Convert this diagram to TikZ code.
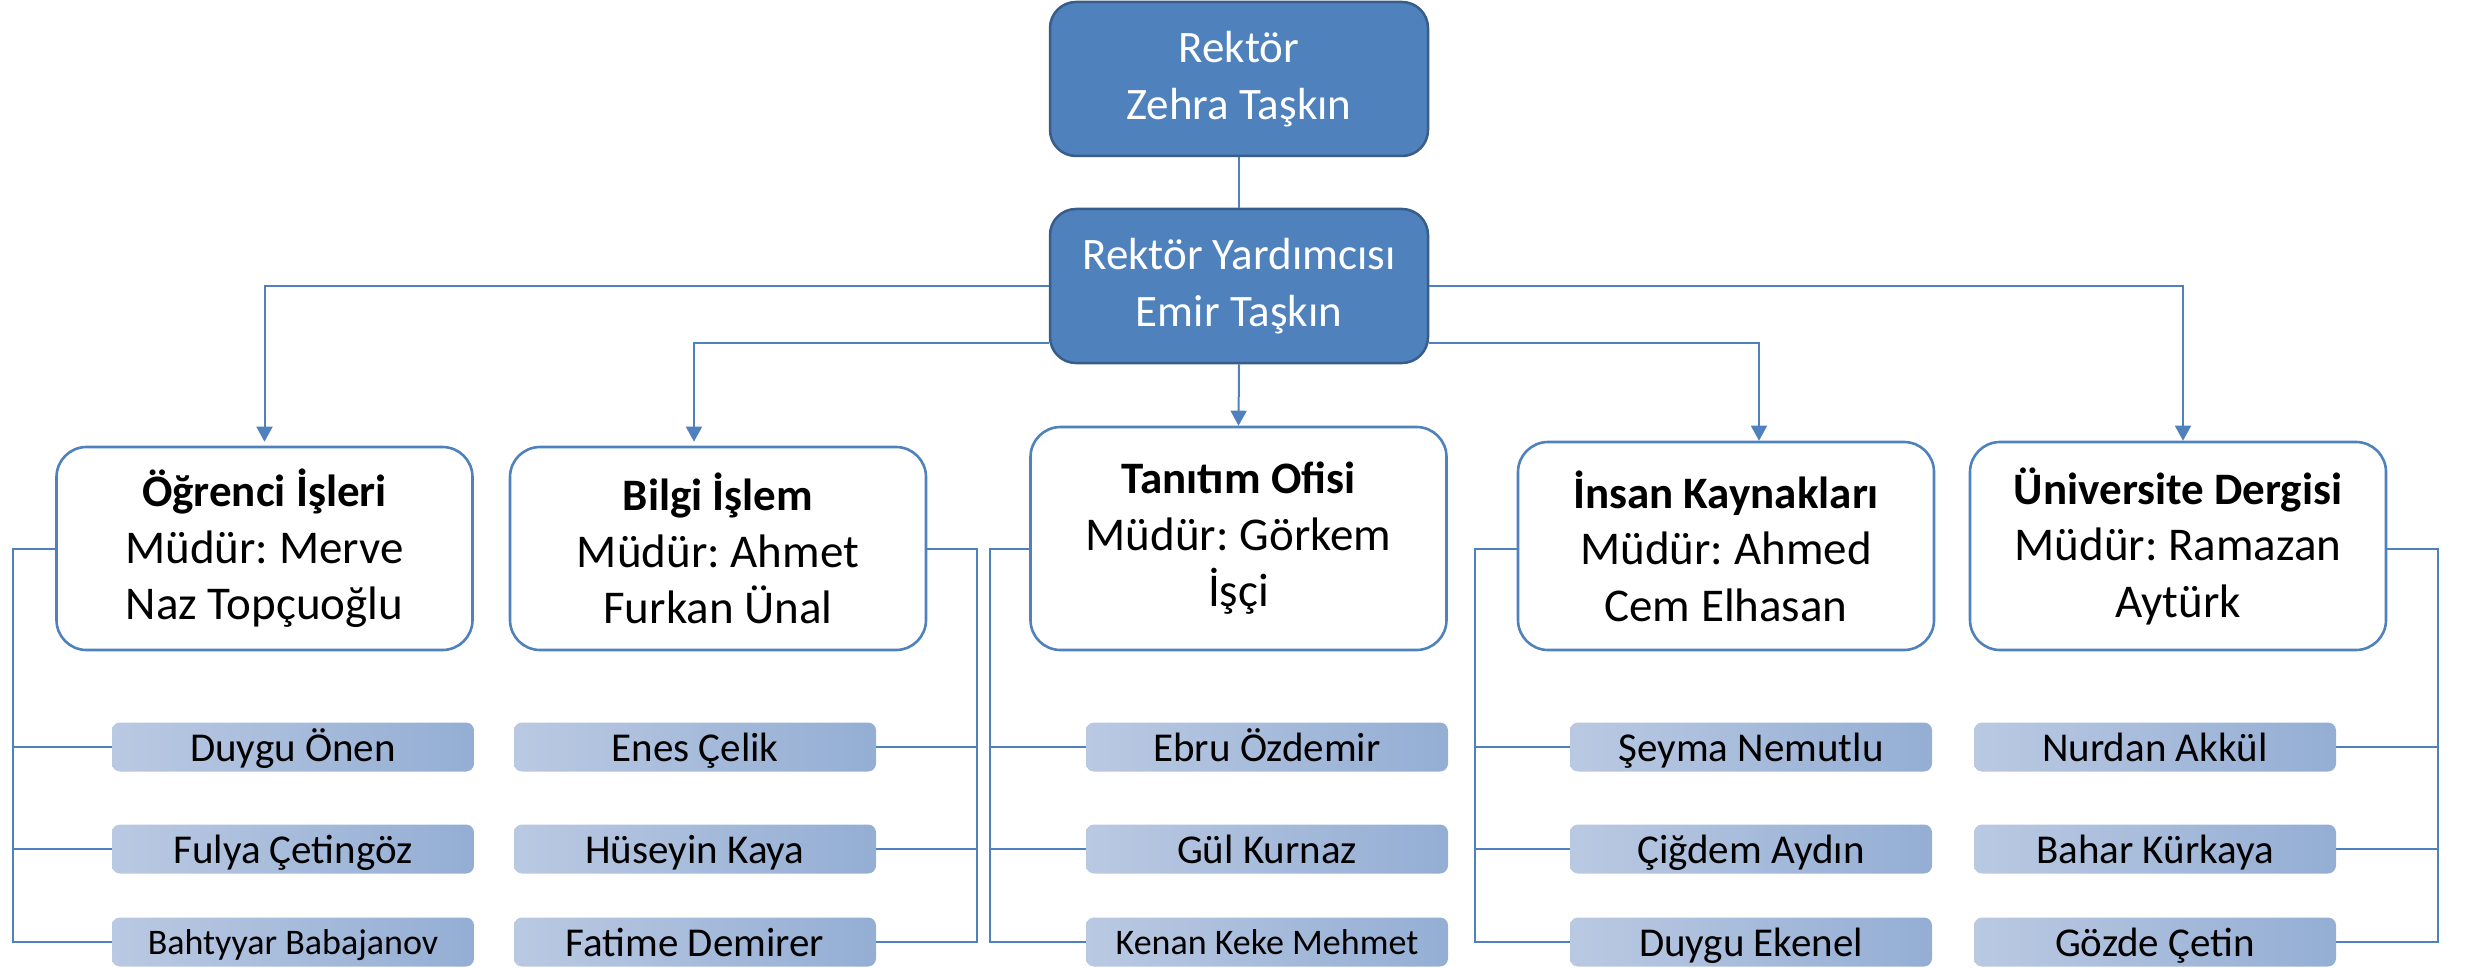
\documentclass[tikz,border=0pt]{standalone}
\usepackage{fontspec}
\setmainfont{Carlito}
\usetikzlibrary{arrows.meta}
\definecolor{ofBlue}{RGB}{79,129,189}
\definecolor{ofEdge}{RGB}{56,93,138}
\definecolor{empL}{RGB}{186,201,226}
\definecolor{empR}{RGB}{148,174,212}
\newcommand\depttitle[1]{{\fontsize{45}{56.5}\selectfont\bfseries #1}}
\frenchspacing

\begin{document}
\begin{tikzpicture}[x=1pt,y=-1pt,
  lead/.style={rounded corners=26pt, fill=ofBlue, draw=ofEdge, line width=2.5pt,
    minimum width=378pt, minimum height=154pt, text=white, align=center,
    font=\fontsize{45}{57}\selectfont, inner sep=0pt},
  dept/.style={rounded corners=30pt, fill=white, draw=ofBlue, line width=2.6pt,
    minimum width=416pt, align=center, font=\fontsize{47}{56.5}\selectfont, inner sep=0pt},
  emp/.style={rounded corners=8pt, left color=empL, right color=empR,
    minimum width=362pt, minimum height=49pt, inner sep=0pt,
    font=\fontsize{41}{48}\selectfont, text height=34pt, text depth=6pt},
  empsmall/.style={emp, font=\fontsize{36}{42}\selectfont, text height=30pt, text depth=6pt},
  link/.style={draw=ofBlue, line width=2pt},
  arrow/.style={link, -{Triangle[length=15pt,width=16pt]}},
]
\useasboundingbox (0,0) rectangle (2473,968);

% management
\node[lead] (A) at (1239,79) {Rektör\\Zehra Taşkın};
\node[lead] (B) at (1239,286) {Rektör Yardımcısı\\Emir Taşkın};

% departments
\node[dept, minimum height=203pt] (D1) at (264.5,548.5) {\depttitle{Öğrenci İşleri}\\Müdür: Merve\\Naz Topçuoğlu};
\node[dept, minimum height=203pt] (D2) at (718,548.5) {\depttitle{Bilgi İşlem}\\Müdür: Ahmet\\Furkan Ünal};
\node[dept, minimum height=223pt] (D3) at (1238.5,538.5) {\depttitle{Tanıtım Ofisi}\\Müdür: Görkem\\İşçi};
\node[dept, minimum height=208pt] (D4) at (1726,546) {\depttitle{İnsan Kaynakları}\\Müdür: Ahmed\\Cem Elhasan};
\node[dept, minimum height=208pt] (D5) at (2178,546) {\depttitle{Üniversite Dergisi}\\Müdür: Ramazan\\Aytürk};

% staff
\node[emp] (E11) at (293,747) {Duygu Önen};
\node[emp] (E12) at (293,849) {Fulya Çetingöz};
\node[empsmall] (E13) at (293,942) {Bahtyyar Babajanov};

\node[emp] (E21) at (695,747) {Enes Çelik};
\node[emp] (E22) at (695,849) {Hüseyin Kaya};
\node[emp] (E23) at (695,942) {Fatime Demirer};

\node[emp] (E31) at (1267,747) {Ebru Özdemir};
\node[emp] (E32) at (1267,849) {Gül Kurnaz};
\node[empsmall] (E33) at (1267,942) {Kenan Keke Mehmet};

\node[emp] (E41) at (1751,747) {Şeyma Nemutlu};
\node[emp] (E42) at (1751,849) {Çiğdem Aydın};
\node[emp] (E43) at (1751,942) {Duygu Ekenel};

\node[emp] (E51) at (2155,747) {Nurdan Akkül};
\node[emp] (E52) at (2155,849) {Bahar Kürkaya};
\node[emp] (E53) at (2155,942) {Gözde Çetin};

% reporting lines
\draw[link] (A) -- (B);
\draw[arrow, shorten >=4pt] (B.west) -| (D1.north);
\draw[arrow, shorten >=4pt] ([yshift=-57pt]B.west) -| ([xshift=-24pt]D2.north);
\draw[arrow] (B.south) -- (D3.north);
\draw[arrow] ([yshift=-57pt]B.east) -| ([xshift=33pt]D4.north);
\draw[arrow] (B.east) -| ([xshift=5pt]D5.north);

% staff brackets
\coordinate (c1) at (13,0);
\coordinate (c2) at (977,0);
\coordinate (c3) at (990,0);
\coordinate (c4) at (1475,0);
\coordinate (c5) at (2438,0);

\draw[link] (D1.west) -| (c1 |- E13.west) -- (E13.west);
\draw[link] (c1 |- E11.west) -- (E11.west);
\draw[link] (c1 |- E12.west) -- (E12.west);

\draw[link] (D2.east) -| (c2 |- E23.east) -- (E23.east);
\draw[link] (c2 |- E21.east) -- (E21.east);
\draw[link] (c2 |- E22.east) -- (E22.east);

\draw[link] (D3.west |- D1.west) -| (c3 |- E33.west) -- (E33.west);
\draw[link] (c3 |- E31.west) -- (E31.west);
\draw[link] (c3 |- E32.west) -- (E32.west);

\draw[link] (D4.west |- D1.west) -| (c4 |- E43.west) -- (E43.west);
\draw[link] (c4 |- E41.west) -- (E41.west);
\draw[link] (c4 |- E42.west) -- (E42.west);

\draw[link] (D5.east |- D1.east) -| (c5 |- E53.east) -- (E53.east);
\draw[link] (c5 |- E51.east) -- (E51.east);
\draw[link] (c5 |- E52.east) -- (E52.east);
\end{tikzpicture}
\end{document}
